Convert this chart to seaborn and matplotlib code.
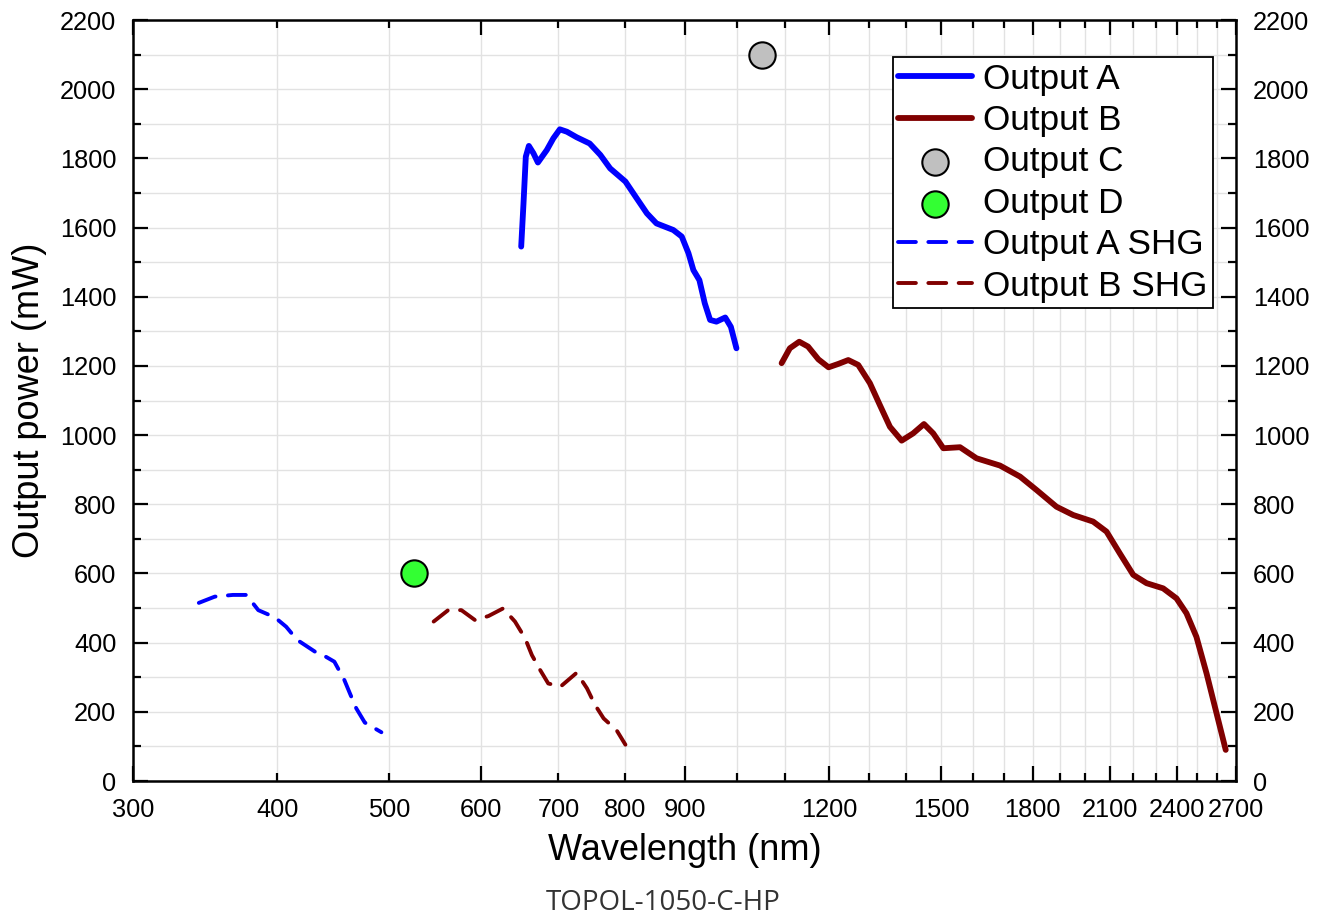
import numpy as np
import pandas as pd
import seaborn as sns
import matplotlib.pyplot as plt
from matplotlib.ticker import FixedLocator, FixedFormatter

# Output A (fundamental, blue)
a_wl = [650, 653, 656, 660, 666, 672, 684, 693, 702, 712, 726, 745, 761, 776, 800, 818, 835, 851, 880, 895, 907, 916, 927, 937, 947, 959, 976, 987, 998]
a_pw = [1545, 1670, 1805, 1836, 1815, 1788, 1824, 1858, 1884, 1877, 1861, 1843, 1810, 1771, 1733, 1685, 1641, 1612, 1593, 1574, 1526, 1477, 1448, 1381, 1333, 1328, 1340, 1313, 1251]

# Output B (fundamental, dark red)
b_wl = [1092, 1110, 1131, 1151, 1175, 1199, 1223, 1247, 1272, 1302, 1328, 1355, 1387, 1419, 1450, 1477, 1507, 1558, 1610, 1687, 1756, 1815, 1888, 1952, 2031, 2086, 2142, 2200, 2259, 2335, 2398, 2446, 2495, 2546, 2597, 2645]
b_pw = [1208, 1251, 1270, 1256, 1219, 1196, 1206, 1217, 1203, 1150, 1087, 1024, 984, 1005, 1032, 1005, 962, 965, 933, 912, 880, 841, 793, 769, 750, 721, 658, 596, 572, 557, 528, 485, 417, 311, 196, 90]

# single points
c_wl, c_pw = [1050], [2100]
d_wl, d_pw = [525], [600]

# SHG outputs
a_shg_wl = [342, 353, 366, 376, 385, 398, 407, 416, 431, 438, 448, 457, 462, 468, 476, 492]
a_shg_pw = [515, 533, 538, 538, 494, 473, 446, 408, 374, 364, 345, 292, 254, 210, 169, 141]
b_shg_wl = [546, 562, 577, 593, 609, 627, 642, 655, 664, 675, 686, 703, 726, 741, 753, 766, 786, 800]
b_shg_pw = [461, 494, 494, 465, 477, 499, 461, 413, 364, 321, 282, 273, 313, 268, 220, 181, 147, 105]

major_x = [300, 600, 900, 1200, 1500, 1800, 2100, 2400, 2700]
minor_x = [w for w in range(300, 2701, 100) if w not in major_x]
minor_lbl = {400: "400", 500: "500", 700: "700", 800: "800"}

sns.set_style("ticks")
plt.rcParams['font.family'] = ['Liberation Sans', 'DejaVu Sans']
plt.rcParams['text.color'] = 'black'
plt.rcParams['axes.labelcolor'] = 'black'
plt.rcParams['xtick.color'] = 'black'
plt.rcParams['ytick.color'] = 'black'

fig = plt.figure(figsize=(13.2, 9.22), dpi=100)
ax = fig.add_axes([0.1008, 0.1529, 0.8356, 0.8254])

blue = "#0000FF"
red = "#800000"

sns.lineplot(x=a_wl, y=a_pw, sort=False, ax=ax, color=blue, lw=4.2, label="Output A",
             solid_capstyle="round", solid_joinstyle="round", zorder=3)
sns.lineplot(x=b_wl, y=b_pw, sort=False, ax=ax, color=red, lw=4.2, label="Output B",
             solid_capstyle="round", solid_joinstyle="round", zorder=3)
sns.scatterplot(x=c_wl, y=c_pw, ax=ax, color="#C0C0C0", s=360, edgecolor="black",
                linewidth=1.5, label="Output C", zorder=4)
sns.scatterplot(x=d_wl, y=d_pw, ax=ax, color="#33FF33", s=360, edgecolor="black",
                linewidth=1.5, label="Output D", zorder=4)
sns.lineplot(x=a_shg_wl, y=a_shg_pw, sort=False, ax=ax, color=blue, lw=2.8,
             linestyle=(0, (4.6, 3.2)), dash_capstyle="round", label="Output A SHG", zorder=3)
sns.lineplot(x=b_shg_wl, y=b_shg_pw, sort=False, ax=ax, color=red, lw=2.8,
             linestyle=(0, (4.6, 3.2)), dash_capstyle="round", label="Output B SHG", zorder=3)

ax.set_xscale("log")
ax.set_xlim(300, 2700)
ax.set_ylim(0, 2200)

ax.xaxis.set_major_locator(FixedLocator(major_x))
ax.xaxis.set_major_formatter(FixedFormatter([str(v) for v in major_x]))
ax.xaxis.set_minor_locator(FixedLocator(minor_x))
ax.xaxis.set_minor_formatter(FixedFormatter([minor_lbl.get(v, "") for v in minor_x]))

ax.set_yticks(range(0, 2201, 200))
ax.set_yticks(range(100, 2200, 200), minor=True)

ax.tick_params(which="both", direction="in", top=True, right=True, labelright=True,
               labelsize=18.3, width=1.6, pad=12, colors="black")
ax.tick_params(which="major", length=11)
ax.tick_params(which="minor", length=5.5)

ax.grid(True, which="both", color="#e2e2e2", lw=1)
ax.set_axisbelow(True)
for sp in ax.spines.values():
    sp.set_linewidth(1.8)
    sp.set_color("black")

ax.set_xlabel("Wavelength (nm)", fontsize=26, labelpad=8, color="black")
ax.set_ylabel("Output power (mW)", fontsize=26, labelpad=9, color="black")

leg = ax.legend(loc="upper right", bbox_to_anchor=(0.979, 0.951), fontsize=25.3,
                frameon=True, fancybox=False, edgecolor="black", framealpha=1,
                handlelength=2.1, handletextpad=0.32, labelspacing=0.24,
                borderpad=0.15, borderaxespad=0)
leg.get_frame().set_linewidth(1.3)
for t in leg.get_texts():
    t.set_color("black")

fig.text(0.502, 0.021, "TOPOL-1050-C-HP", ha="center", va="center", fontsize=20,
         color="#333333", family=["Open Sans", "DejaVu Sans"])

fig.savefig("out.png", dpi=100)
